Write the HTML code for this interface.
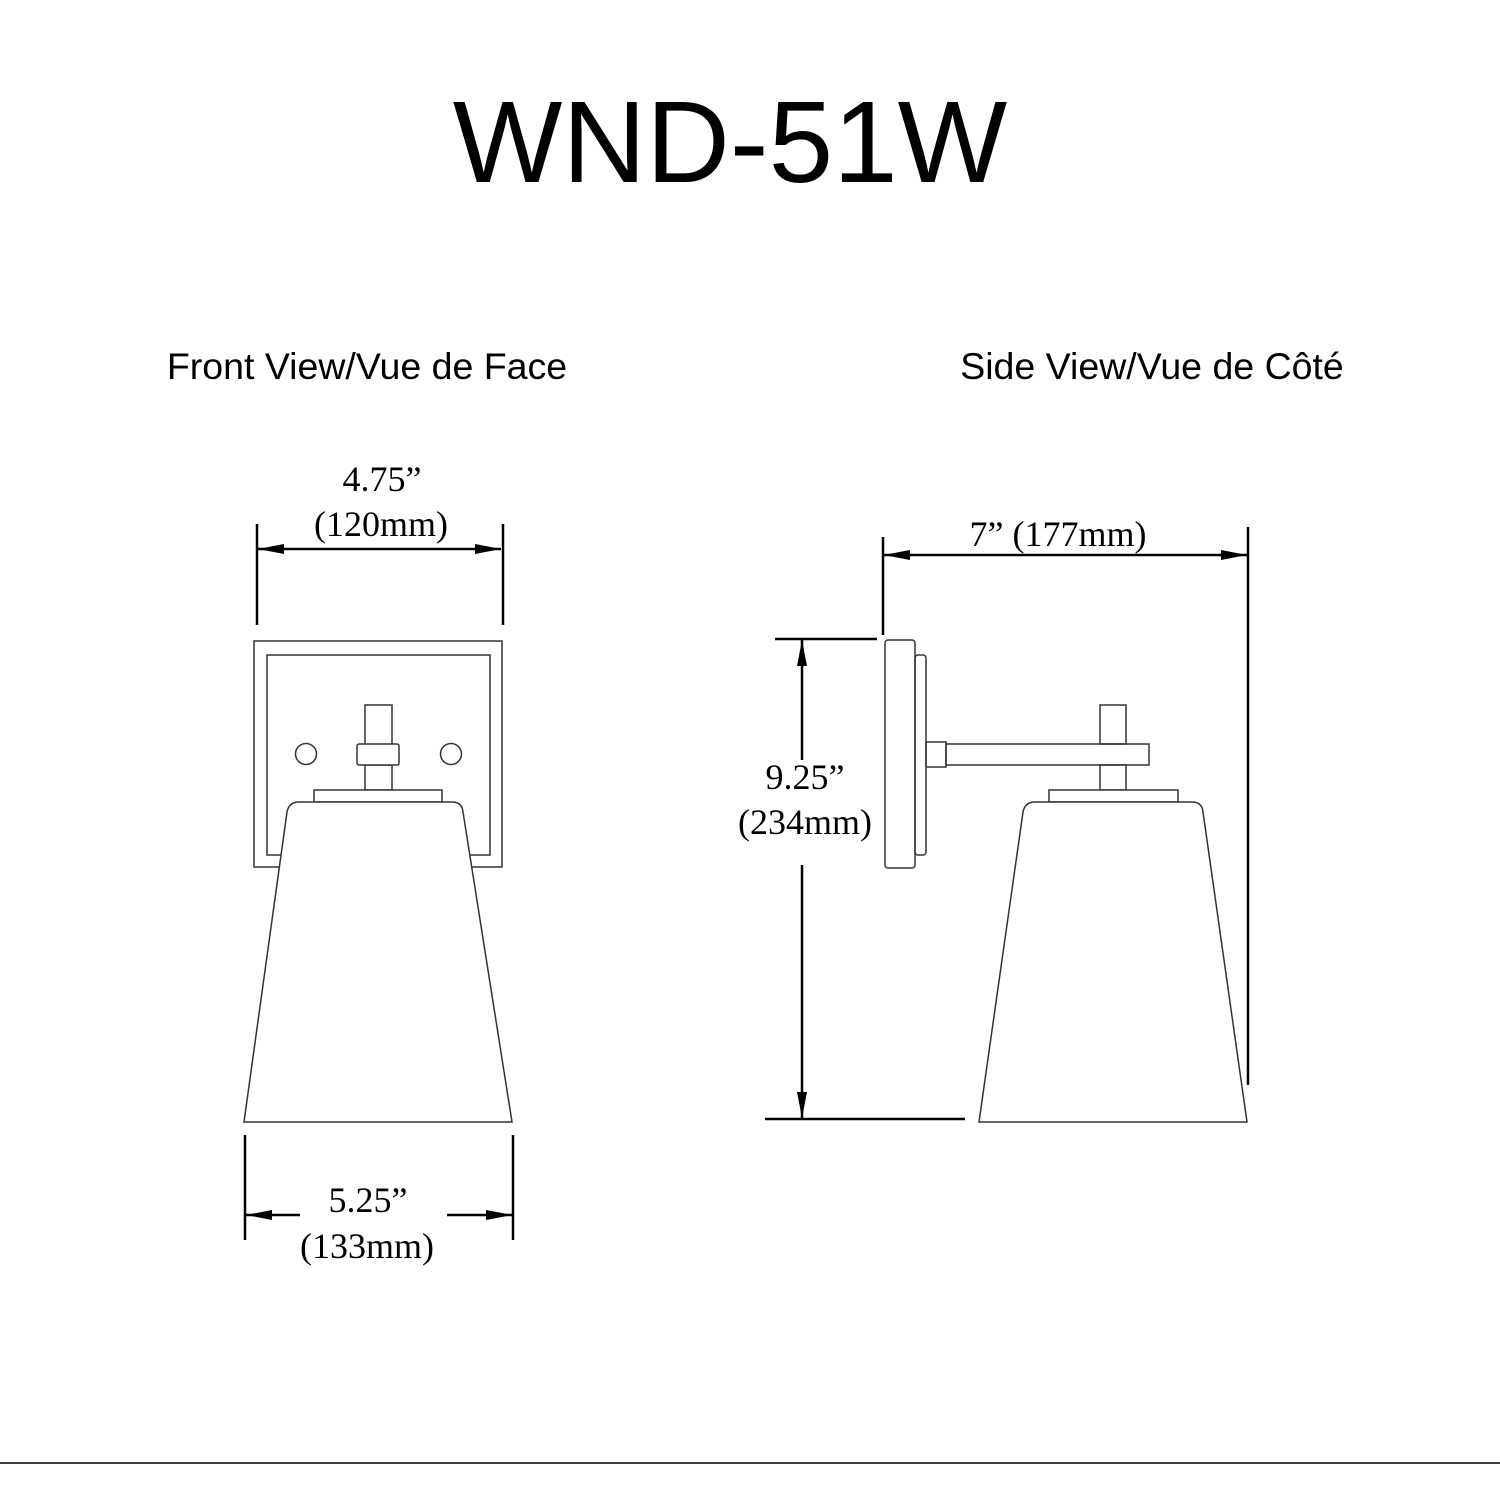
<!DOCTYPE html>
<html><head><meta charset="utf-8"><style>
html,body{margin:0;padding:0;background:#fff;}
svg{display:block;}
</style></head><body>
<svg width="1500" height="1500" viewBox="0 0 1500 1500" xmlns="http://www.w3.org/2000/svg">
<defs>
<marker id="a" viewBox="0 0 26 12" refX="26" refY="6" markerWidth="26" markerHeight="12" markerUnits="userSpaceOnUse" orient="auto-start-reverse">
<path d="M0,1 L26,6 L0,11 Z" fill="#000"/></marker>
</defs>
<rect width="1500" height="1500" fill="#fff"/>
<text x="730" y="182" text-anchor="middle" font-family="Liberation Sans, sans-serif" font-size="116" fill="#000">WND-51W</text>
<text x="367" y="379" text-anchor="middle" font-family="Liberation Sans, sans-serif" font-size="37.5" fill="#000">Front View/Vue de Face</text>
<text x="1152" y="379" text-anchor="middle" font-family="Liberation Sans, sans-serif" font-size="37.5" fill="#000">Side View/Vue de Côté</text>

<g fill="none" stroke="#333" stroke-width="1.5">
<rect x="254" y="641" width="248" height="226"/>
<rect x="267" y="655" width="223" height="200"/>
<circle cx="306" cy="754" r="10.5"/>
<circle cx="451" cy="754" r="10.5"/>
<rect x="365" y="705" width="27" height="40" fill="#fff"/>
<rect x="365" y="765" width="27" height="25" fill="#fff"/>
<rect x="357" y="744" width="42" height="21" rx="2" fill="#fff"/>
<rect x="314" y="790" width="128" height="12" fill="#fff"/>
<path d="M244,1122 L287,812 Q289,802 299,802 L452,802 Q462,802 463,812 L512,1122 Z" fill="#fff"/>
<rect x="885" y="640" width="30" height="228" rx="3"/>
<rect x="915" y="655" width="11" height="200" rx="3"/>
<rect x="926" y="742" width="20" height="25"/>
<rect x="946" y="744" width="203" height="21"/>
<rect x="1100" y="705" width="26" height="39"/>
<rect x="1100" y="765" width="26" height="25"/>
<rect x="1049" y="790" width="129" height="12" fill="#fff"/>
<path d="M979,1122 L1023,812 Q1025,802 1035,802 L1192,802 Q1202,802 1203,812 L1247,1122 Z" fill="#fff"/>
</g>

<g stroke="#000" stroke-width="2.5" fill="none">
<line x1="257" y1="524" x2="257" y2="625"/>
<line x1="503" y1="524" x2="503" y2="625"/>
<line x1="258" y1="549" x2="501" y2="549" marker-start="url(#a)" marker-end="url(#a)"/>
<line x1="245" y1="1135" x2="245" y2="1240"/>
<line x1="513" y1="1135" x2="513" y2="1240"/>
<line x1="300" y1="1215" x2="246" y2="1215" marker-end="url(#a)"/>
<line x1="447" y1="1215" x2="512" y2="1215" marker-end="url(#a)"/>
<line x1="883" y1="537" x2="883" y2="635"/>
<line x1="1248" y1="527" x2="1248" y2="1085"/>
<line x1="884" y1="555" x2="1247" y2="555" marker-start="url(#a)" marker-end="url(#a)"/>
<line x1="775" y1="639" x2="877" y2="639"/>
<line x1="765" y1="1119" x2="965" y2="1119"/>
<line x1="802" y1="760" x2="802" y2="640" marker-end="url(#a)"/>
<line x1="802" y1="865" x2="802" y2="1118" marker-end="url(#a)"/>
</g>

<g font-family="Liberation Serif, serif" font-size="36" fill="#000" text-anchor="middle">
<text x="382" y="491">4.75”</text>
<text x="381" y="536">(120mm)</text>
<text x="368" y="1212">5.25”</text>
<text x="367" y="1258">(133mm)</text>
<text x="1058" y="546">7” (177mm)</text>
<text x="805" y="789">9.25”</text>
<text x="805" y="834">(234mm)</text>
</g>
<line x1="0" y1="1463" x2="1500" y2="1463" stroke="#000" stroke-width="1.5"/>
</svg>
</body></html>
